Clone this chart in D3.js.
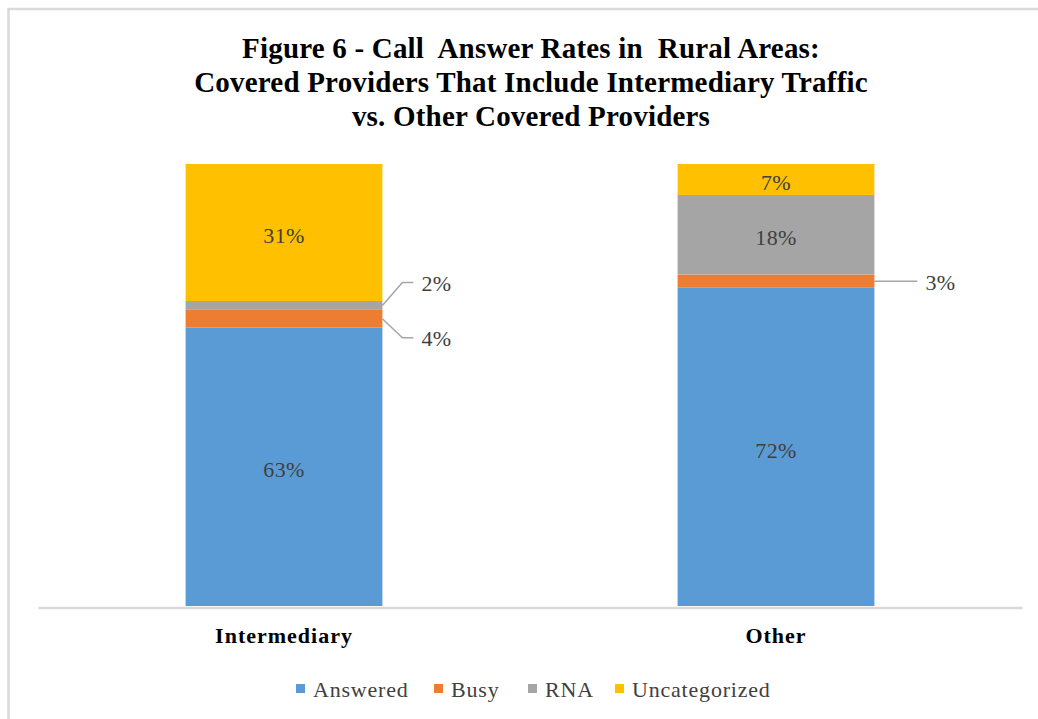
<!DOCTYPE html>
<html><head><meta charset="utf-8">
<script src="https://cdn.jsdelivr.net/npm/d3@7"></script>
<style>body{margin:0;background:#fff;} svg{display:block;} .pre{white-space:pre;}</style>
</head><body>
<svg id="chart" width="1038" height="719"></svg>
<script>
const categories = ["Intermediary", "Other"];
const seriesNames = ["Answered", "Busy", "RNA", "Uncategorized"];
const answered = [63, 72];
const busy = [4, 3];
const rna = [2, 18];
const uncategorized = [31, 7];
const titleLines = ["Figure 6 - Call  Answer Rates in  Rural Areas:", "Covered Providers That Include Intermediary Traffic", "vs. Other Covered Providers"];
const colors = ["#5B9BD5", "#ED7D31", "#A5A5A5", "#FFC000"];

const svg = d3.select("#chart");
const W = 1038, H = 719;
const serif = "'Liberation Serif','Times New Roman',serif";

// frame
svg.append("rect").attr("x", 8.5).attr("y", 9).attr("width", W + 20).attr("height", H + 20)
  .attr("fill", "none").attr("stroke", "#d9d9d9").attr("stroke-width", 2.5);

// title
svg.append("g").selectAll("text").data(titleLines).join("text")
  .attr("class", "pre")
  .attr("x", 531).attr("y", (d, i) => 48 + i * 34).attr("dy", "0.35em")
  .attr("text-anchor", "middle").attr("font-family", serif).attr("font-weight", "bold")
  .attr("font-size", 29).attr("letter-spacing", 0.2).attr("fill", "#000").text(d => d);

const table = categories.map((c, i) => ({cat: c, Answered: answered[i], Busy: busy[i], RNA: rna[i], Uncategorized: uncategorized[i]}));
const stacked = d3.stack().keys(seriesNames)(table);

const x = d3.scaleBand().domain(categories).range([38, 1022]).paddingInner(0.6).paddingOuter(0.3);
const y = d3.scaleLinear().domain([0, 100]).range([606, 164]);
const color = d3.scaleOrdinal().domain(seriesNames).range(colors);

const layers = svg.append("g").selectAll("g").data(stacked).join("g").attr("fill", d => color(d.key));
layers.selectAll("rect").data(d => d).join("rect")
  .attr("x", d => x(d.data.cat)).attr("width", x.bandwidth())
  .attr("y", d => y(d[1])).attr("height", d => y(d[0]) - y(d[1]));

// axis
const xAxis = svg.append("g").attr("transform", "translate(0,607.5)").call(d3.axisBottom(x).tickSize(0).tickPadding(20));
xAxis.select(".domain").attr("stroke", "#d9d9d9").attr("stroke-width", 2.5);
xAxis.selectAll("text").attr("font-family", serif).attr("font-weight", "bold").attr("font-size", 22)
  .attr("fill", "#000").attr("letter-spacing", 1);

// labels
const labels = svg.append("g").attr("font-family", serif).attr("font-size", 22).attr("letter-spacing", 0.4).attr("fill", "#404040");
stacked.forEach(layer => {
  layer.forEach(d => {
    const v = d[1] - d[0];
    const cx = x(d.data.cat) + x.bandwidth() / 2;
    const x1 = x(d.data.cat) + x.bandwidth();
    const mid = (y(d[0]) + y(d[1])) / 2;
    if (v >= 5) {
      labels.append("text").attr("x", cx).attr("y", mid + 3).attr("dy", "0.35em").attr("text-anchor", "middle").text(v + "%");
    } else {
      let ly, pts;
      if (d.data.cat === "Intermediary" && layer.key === "RNA") {
        ly = mid - 23;
        pts = [[x1, mid], [x1 + 20, ly], [x1 + 31, ly]];
      } else if (d.data.cat === "Intermediary" && layer.key === "Busy") {
        ly = mid + 19;
        pts = [[x1, mid], [x1 + 20, ly], [x1 + 31, ly]];
      } else {
        ly = mid;
        pts = [[x1, mid], [x1 + 43, ly]];
      }
      svg.append("path").attr("d", d3.line()(pts)).attr("fill", "none").attr("stroke", "#a6a6a6").attr("stroke-width", 1.5);
      labels.append("text").attr("x", pts[pts.length - 1][0] + 8).attr("y", ly + 1).attr("dy", "0.35em").text(v + "%");
    }
  });
});

// legend
const legX = [296, 434, 528, 615];
const leg = svg.append("g").selectAll("g").data(seriesNames).join("g")
  .attr("transform", (d, i) => `translate(${legX[i]},684)`);
leg.append("rect").attr("width", 9).attr("height", 9).attr("fill", d => color(d));
leg.append("text").attr("x", 17).attr("y", 5).attr("dy", "0.35em").attr("font-family", serif)
  .attr("font-size", 22).attr("letter-spacing", 0.8).attr("fill", "#404040").text(d => d);
</script>
</body></html>
